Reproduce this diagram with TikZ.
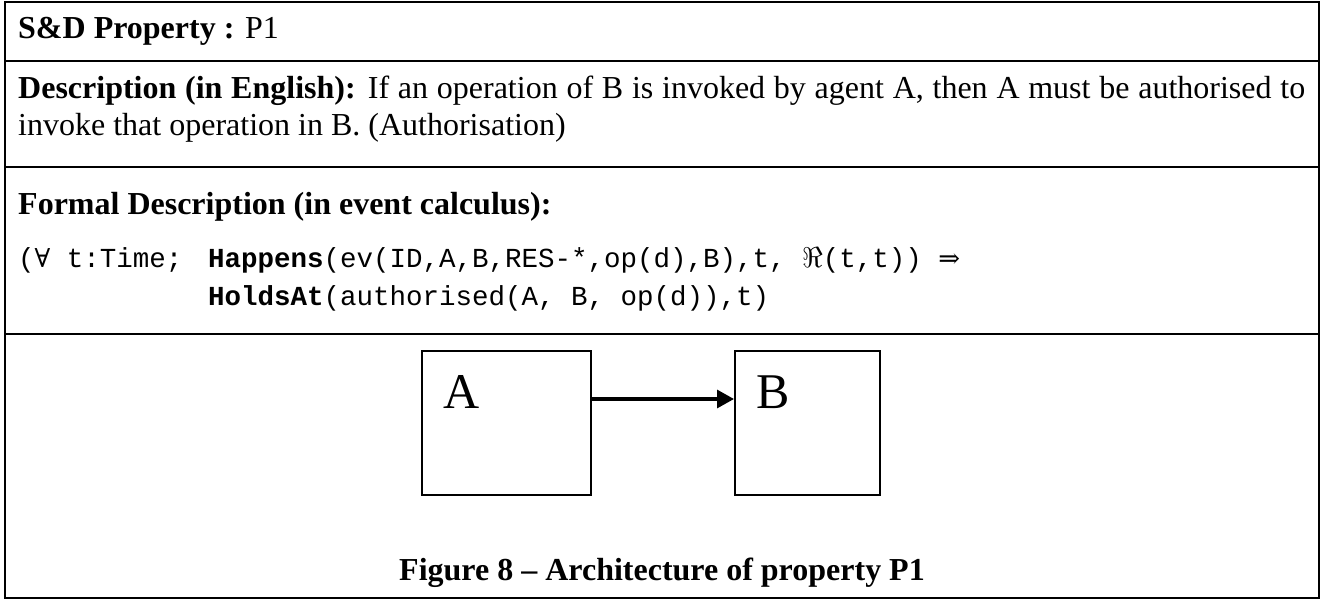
\documentclass[tikz,border=0pt]{standalone}
\usepackage{graphicx}
\usepackage{fontspec}
\setmainfont{Liberation Serif}
\setmonofont{Liberation Mono}
\newfontfamily\symfont{DejaVu Serif}
\usetikzlibrary{arrows.meta}
\begin{document}
\begin{tikzpicture}[x=1pt,y=-1pt,
  txt/.style={anchor=base west,inner sep=0pt,font=\fontsize{32}{38}\selectfont},
  mono/.style={anchor=base west,inner sep=0pt,font=\fontsize{27.5}{32}\selectfont\ttfamily},
  rule/.style={line width=2pt},
  archbox/.style={draw,line width=2pt,minimum height=144pt,inner sep=0pt},
  boxlabel/.style={anchor=base west,inner sep=0pt,font=\fontsize{50}{56}\selectfont},
  conn/.style={line width=3.2pt,-{Triangle[length=17pt,width=18pt]}}
]
\useasboundingbox (0,0) rectangle (1322,600);
% table frame
\draw[rule] (5,2) rectangle (1319,598);
\draw[rule] (5,61) -- (1319,61);
\draw[rule] (5,167) -- (1319,167);
\draw[rule] (5,334) -- (1319,334);
% header
\node[txt] (hdr) at (18,38) {\textbf{S\&D Property :} P1};
% description
\node[txt] (desc1) at (18,98) {\makebox[1287pt][s]{\textbf{Description (in English):} If an operation of B is invoked by agent A, then A must be authorised to}};
\node[txt] (desc2) at (18,135) {invoke that operation in B. (Authorisation)};
% formal
\node[txt] (formal) at (18,214) {\textbf{Formal Description (in event calculus):}};
\node[mono] (f1a) at (18,267) {({\symfont\fontsize{26}{30}\selectfont ∀} t:Time;};
\node[mono] (f1b) at (208,267) {\textbf{Happens}(ev(ID,A,B,RES-*,op(d),B),t, \scalebox{1.15}{$\Re$}(t,t)) {\symfont\fontsize{26}{30}\selectfont ⇒}};
\node[mono] (f2) at (208,305) {\textbf{HoldsAt}(authorised(A, B, op(d)),t)};
% architecture
\node[archbox,minimum width=169pt] (boxA) at (506.5,423) {};
\node[archbox,minimum width=145pt] (boxB) at (807.5,423) {};
\node[boxlabel] (labA) at (443,408) {A};
\node[boxlabel] (labB) at (756,408) {B};
\coordinate (ay) at (0,399);
\draw[conn] (boxA.east |- ay) -- (boxB.west |- ay);
% caption
\node[anchor=base,inner sep=0pt,font=\fontsize{32}{38}\selectfont\bfseries] (cap) at (662,580) {Figure 8 -- Architecture of property P1};
\end{tikzpicture}
\end{document}
